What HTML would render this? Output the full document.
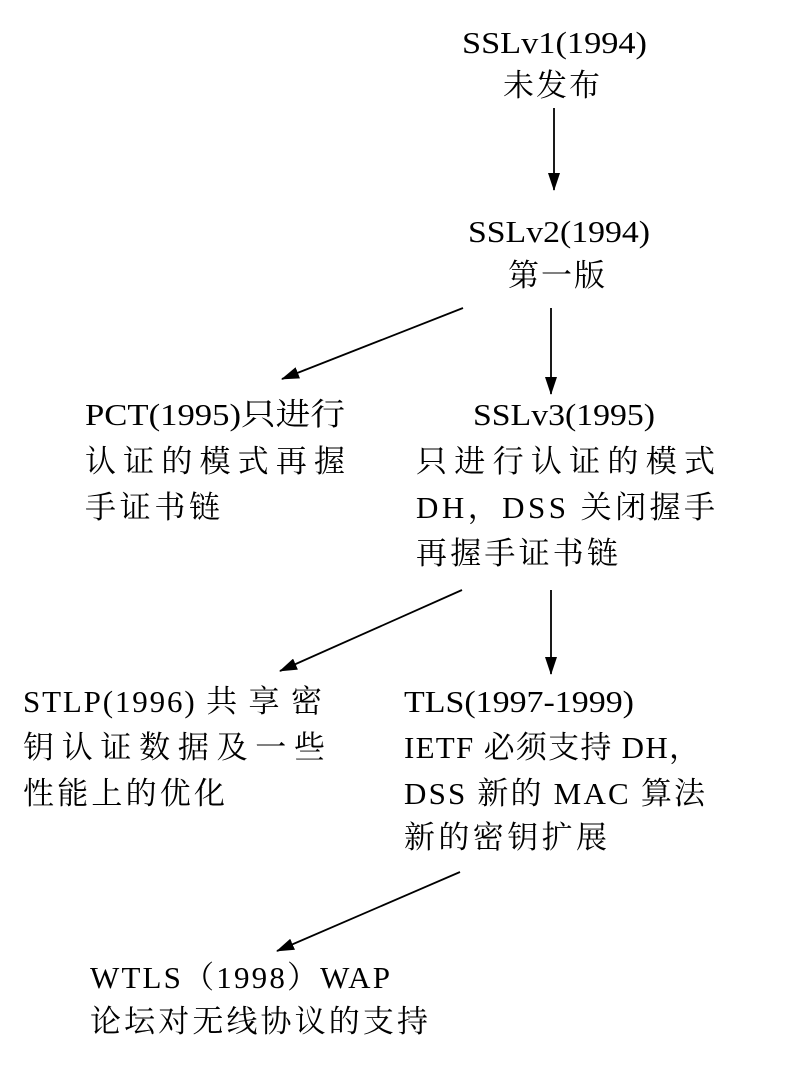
<!DOCTYPE html>
<html><head><meta charset="utf-8"><style>
html,body{margin:0;padding:0;background:#fff;}
svg{display:block;}
text{font-family:"Liberation Serif","Noto Serif CJK SC",serif;font-size:31px;fill:#000;}
</style></head><body>
<svg width="800" height="1069" viewBox="0 0 800 1069" xmlns="http://www.w3.org/2000/svg">
<defs><marker id="a" markerWidth="18" markerHeight="12" refX="17" refY="6" orient="auto" markerUnits="userSpaceOnUse"><path d="M0,0 L18,6 L0,12 z" fill="#000"/></marker></defs>
<g stroke="#000" stroke-width="1.8" fill="none" marker-end="url(#a)">
<line x1="554" y1="108" x2="554" y2="190"/>
<line x1="463" y1="308" x2="282" y2="379"/>
<line x1="551" y1="308" x2="551" y2="394"/>
<line x1="462" y1="590" x2="280" y2="671"/>
<line x1="551" y1="590" x2="551" y2="674"/>
<line x1="460" y1="872" x2="277" y2="951"/>
</g>
<text x="462" y="53" textLength="185" lengthAdjust="spacingAndGlyphs">SSLv1(1994)</text>
<text x="503" y="96" textLength="97">未发布</text>
<text x="468" y="242" textLength="182" lengthAdjust="spacingAndGlyphs">SSLv2(1994)</text>
<text x="508" y="286" textLength="97">第一版</text>
<text x="85" y="425" textLength="260" lengthAdjust="spacingAndGlyphs">PCT(1995)只进行</text>
<text x="85" y="472" textLength="260">认证的模式再握</text>
<text x="85" y="518" textLength="135">手证书链</text>
<text x="473" y="425" textLength="182" lengthAdjust="spacingAndGlyphs">SSLv3(1995)</text>
<text x="416" y="472" textLength="299">只进行认证的模式</text>
<text x="416" y="518" textLength="299">DH，DSS 关闭握手</text>
<text x="416" y="564" textLength="202">再握手证书链</text>
<text x="23" y="712" textLength="299">STLP(1996) 共 享 密</text>
<text x="23" y="758" textLength="302">钥认证数据及一些</text>
<text x="23" y="804" textLength="202">性能上的优化</text>
<text x="404" y="712" textLength="230" lengthAdjust="spacingAndGlyphs">TLS(1997-1999)</text>
<text x="404" y="758" textLength="296">IETF 必须支持 DH，</text>
<text x="404" y="804" textLength="301">DSS 新的 MAC 算法</text>
<text x="404" y="848" textLength="203">新的密钥扩展</text>
<text x="90" y="988" textLength="300">WTLS（1998）WAP</text>
<text x="90" y="1032" textLength="338">论坛对无线协议的支持</text>
</svg>
</body></html>
